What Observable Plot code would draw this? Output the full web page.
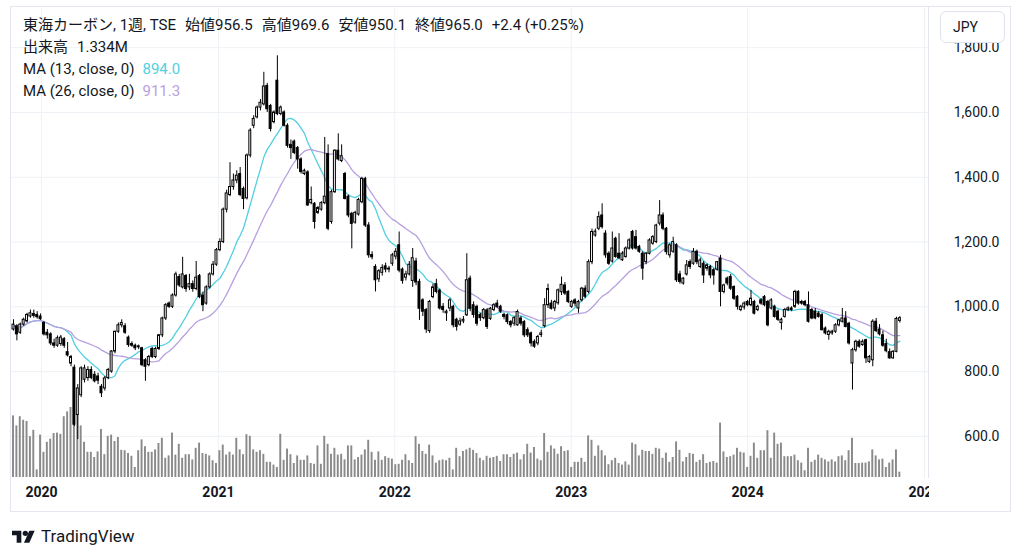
<!DOCTYPE html>
<html><head><meta charset="utf-8">
<script src="https://cdn.jsdelivr.net/npm/d3@7"></script>
<script src="https://cdn.jsdelivr.net/npm/@observablehq/plot@0.6"></script>
<style>
body{margin:0;background:#fff;}
#root{position:relative;width:1024px;height:557px;overflow:hidden;font-family:Roboto,"Noto Sans CJK JP",sans-serif;color:#131722;}
.layer{position:absolute;left:11px;top:8px;}
#frame{position:absolute;left:10px;top:6px;width:1001px;height:506px;border:1px solid #e3e6ee;box-sizing:border-box;pointer-events:none;}
#sep{position:absolute;left:928px;top:7px;width:1px;height:471px;background:#e3e6ee;}
#clipx{position:absolute;left:929px;top:479px;width:81px;height:32px;background:#fff;}
#jpy{position:absolute;left:940px;top:11px;width:65px;height:32px;box-sizing:border-box;border:1px solid #e0e3eb;border-radius:6px;background:#fff;font-size:14px;line-height:30px;padding-left:12px;}
#hdr{position:absolute;left:23px;top:14px;font-size:15px;line-height:22px;white-space:nowrap;}
#hdr .ln{height:22px;}
#hdr .g{margin-left:9px;}
#hdr .g8{margin-left:8px;}
#logo{position:absolute;left:12px;top:526px;display:flex;align-items:center;gap:5px;font-size:17px;}
</style></head><body><div id="root"></div>
<script>
// ---- data (weekly, first week 2019-11-04) ----
const firstWeek = "2019-11-04";
const opens = [
930,940,920,945,955,970,978,975,970,950,
920,915,887,880,885,900,860,825,812,666,
727,775,780,805,790,785,753,748,780,800,
862,923,943,940,905,885,880,875,872,835,
820,870,845,870,912,964,1010,1000,1035,1092,
1060,1095,1060,1070,1055,1095,1035,1010,1060,1100,
1130,1175,1200,1300,1345,1370,1390,1410,1364,1335,
1467,1559,1585,1615,1625,1682,1620,1570,1698,1595,
1600,1559,1500,1510,1490,1455,1410,1415,1320,1318,
1290,1300,1320,1472,1262,1354,1482,1450,1410,1340,
1287,1260,1285,1323,1395,1251,1160,1123,1085,1105,
1125,1115,1133,1155,1190,1115,1090,1100,1080,1140,
1077,1020,990,925,1030,1070,1050,1000,980,995,
1000,960,945,955,974,1087,1005,1000,975,965,
989,963,990,1010,1000,975,974,953,948,943,
964,953,928,918,892,887,913,940,1005,1010,
995,1011,1045,1066,1046,1000,1020,995,1020,1056,
1046,1138,1220,1241,1282,1226,1164,1140,1210,1164,
1144,1154,1180,1231,1215,1185,1164,1138,1164,1195,
1200,1257,1282,1241,1159,1170,1190,1100,1072,1100,
1138,1133,1170,1123,1133,1118,1123,1113,1115,1149,
1046,1087,1092,1061,1031,990,998,1015,1005,1015,
990,1020,1030,1015,995,1000,985,950,969,990,
995,1000,1046,1015,1015,1005,990,985,979,974,
933,913,918,923,943,954,964,948,825,866,
892,882,897,830,835,954,930,912,885,860,
841,861,956.5];
const highs = [
960,945,950,965,980,990,990,985,978,955,
930,920,900,910,912,905,890,850,820,760,
815,820,815,815,800,795,760,785,810,865,
925,950,960,948,910,892,885,882,875,840,
850,875,875,915,968,1010,1015,1040,1107,1100,
1153,1100,1100,1080,1140,1100,1045,1065,1105,1140,
1180,1210,1305,1360,1445,1410,1420,1430,1370,1472,
1550,1590,1620,1640,1724,1690,1625,1605,1775,1620,
1605,1565,1515,1515,1495,1460,1425,1420,1370,1322,
1310,1325,1523,1500,1360,1485,1534,1500,1415,1345,
1292,1295,1335,1400,1400,1260,1170,1130,1115,1130,
1135,1125,1165,1180,1231,1120,1110,1140,1180,1150,
1085,1025,995,1020,1070,1085,1055,1010,990,1025,
1005,965,965,970,1164,1095,1015,1005,980,995,
995,998,1010,1020,1005,980,978,958,970,990,
970,958,935,922,898,912,928,1025,1070,1020,
1020,1055,1092,1075,1050,1020,1025,1020,1060,1065,
1145,1240,1240,1293,1318,1235,1170,1231,1215,1226,
1170,1185,1210,1236,1236,1190,1170,1168,1210,1220,
1255,1328,1290,1245,1195,1215,1195,1110,1090,1143,
1145,1180,1175,1150,1140,1132,1128,1118,1140,1159,
1070,1092,1100,1065,1035,1005,1015,1020,1051,1020,
1005,1025,1035,1020,1025,1005,990,965,995,1000,
1000,1051,1050,1020,1020,1046,995,995,985,980,
938,928,928,948,962,995,985,952,872,897,
898,898,900,850,960,964,945,925,900,870,
865,968,969.6];
const lows = [
925,895,915,940,950,965,965,962,958,910,
900,880,872,875,878,872,845,815,630,590,
720,765,770,775,765,760,720,740,775,795,
855,918,935,915,875,875,865,868,815,770,
815,840,840,865,905,958,995,995,1030,1060,
1055,1045,1050,1045,1050,1025,985,1005,1055,1095,
1125,1170,1195,1290,1340,1360,1380,1340,1300,1330,
1460,1550,1580,1605,1620,1600,1540,1565,1590,1590,
1555,1490,1455,1470,1425,1410,1405,1310,1315,1240,
1285,1295,1315,1235,1255,1350,1450,1445,1330,1275,
1179,1255,1280,1318,1245,1150,1145,1046,1075,1095,
1105,1105,1125,1145,1105,1070,1080,1095,1060,1065,
958,970,918,918,1025,1040,990,980,955,985,
935,925,940,948,970,985,965,940,955,960,
930,958,985,995,980,960,945,935,940,940,
940,905,905,876,872,880,905,935,995,990,
985,1005,1035,1035,1010,995,1000,980,1015,1025,
1040,1130,1215,1235,1240,1150,1128,1135,1150,1145,
1140,1150,1175,1175,1175,1165,1082,1130,1160,1190,
1195,1250,1235,1160,1150,1165,1075,1070,1067,1095,
1115,1128,1130,1118,1072,1110,1087,1067,1110,1000,
1040,1065,1050,1020,990,985,990,1000,1000,975,
985,1005,1000,938,990,965,955,928,965,985,
985,995,1005,1005,1000,950,960,960,965,925,
913,897,912,918,938,950,935,882,743,860,
872,878,825,825,815,920,910,875,858,838,
838,858,950.1];
const closes = [
945,915,945,960,975,980,972,968,962,915,
912,887,880,903,905,880,850,845,636,748,
810,810,805,780,770,772,733,779,805,862,
923,943,950,920,882,880,872,878,820,815,
845,845,870,912,964,1005,1000,1035,1100,1066,
1100,1055,1070,1055,1090,1030,1005,1060,1100,1130,
1175,1200,1300,1350,1370,1390,1405,1345,1333,1467,
1544,1580,1615,1630,1680,1610,1549,1600,1595,1615,
1559,1497,1490,1475,1455,1416,1420,1313,1330,1262,
1305,1320,1340,1241,1354,1482,1455,1465,1333,1282,
1256,1290,1330,1395,1251,1159,1153,1082,1110,1120,
1115,1118,1159,1170,1112,1080,1100,1130,1150,1075,
994,985,930,1015,1060,1046,995,990,985,1020,
943,938,955,960,1082,994,975,948,965,990,
938,994,1005,1000,985,969,953,943,965,984,
948,912,912,887,877,907,918,1005,1055,994,
1015,1051,1068,1041,1015,1015,1010,1015,1056,1031,
1138,1231,1232,1277,1246,1159,1133,1180,1154,1150,
1164,1180,1205,1180,1180,1170,1118,1164,1205,1215,
1251,1282,1241,1169,1190,1200,1082,1077,1087,1128,
1123,1170,1138,1143,1097,1128,1097,1097,1138,1046,
1066,1072,1056,1025,1000,1000,1010,1005,1025,979,
1000,1010,1005,943,1020,969,960,960,990,995,
990,1046,1010,1010,1005,954,964,964,969,928,
918,923,923,943,958,964,938,887,866,892,
877,892,841,845,954,925,915,880,863,841,
861,962.6,965.0];
// volume in millions of shares
const volumes = [
15.4,12.9,15.2,14.3,14.0,10.2,11.8,1.9,10.6,6.3,
8.8,9.6,11.0,11.1,10.8,15.2,16.4,17.5,14.2,15.7,
12.9,8.8,6.3,6.3,5.0,6.4,12.0,5.7,10.3,10.6,
9.0,10.0,6.8,6.7,6.0,5.3,2.5,6.7,9.4,7.7,
6.3,6.3,6.9,8.5,9.8,4.8,5.4,11.1,5.6,8.3,
4.8,5.7,5.7,4.4,7.3,8.6,6.0,5.8,5.4,4.2,
3.5,6.7,8.1,5.6,6.3,5.6,9.8,6.9,5.7,10.7,
10.3,6.9,6.3,6.7,5.8,3.8,3.8,3.1,2.5,10.8,
4.3,7.1,5.7,3.5,5.4,4.3,4.3,5.4,3.5,3.3,
7.9,3.3,10.3,8.3,5.8,7.3,5.6,5.8,4.4,7.9,
7.9,4.4,5.0,5.6,6.9,9.3,6.3,4.3,6.4,4.3,
5.2,4.8,4.6,3.2,3.3,4.3,5.7,4.2,3.5,
10.2,8.3,6.5,5.8,8.1,5.4,3.6,4.2,4.4,4.2,
4.8,1.9,7.3,5.2,6.5,6.9,7.3,6.8,6.0,4.8,
4.2,5.3,4.8,5.0,5.3,4.0,5.7,5.7,5.0,5.8,
6.1,4.4,5.7,8.3,6.1,7.5,4.6,4.2,11.0,6.3,
7.9,7.1,5.8,7.7,6.5,6.7,2.5,3.8,3.8,4.8,
3.8,10.4,9.3,5.3,7.9,6.7,5.4,3.2,4.2,4.8,
3.5,3.1,3.9,3.1,8.6,8.2,5.4,6.8,6.5,6.5,
5.8,7.3,7.1,4.8,6.1,3.8,5.0,8.9,6.8,3.9,
5.0,6.0,5.8,3.8,4.3,5.7,3.5,3.8,4.0,3.6,
13.6,6.4,5.0,5.2,5.6,7.3,6.3,6.1,2.5,5.3,
8.6,4.8,6.7,6.7,11.7,4.8,11.1,8.3,8.6,5.2,
5.2,5.2,5.6,4.2,3.6,1.7,7.3,3.8,4.3,5.6,
4.8,4.4,3.9,4.4,3.9,5.2,5.4,4.2,6.7,9.8,
3.5,3.5,3.6,3.6,3.9,6.9,5.4,4.4,4.6,2.5,
3.6,4.4,6.9,1.334];
const priceTicks = [600, 800, 1000, 1200, 1400, 1600, 1800];
const yearTicks = [2020, 2021, 2022, 2023, 2024, 2025];
const maPeriods = [13, 26];
const maColors = ["#52cfe0", "#b7a0e0"];
const titleText = "東海カーボン, 1週, TSE";

// ---- build ----
const DAY = 864e5;
const t0 = Date.parse(firstWeek + "T00:00:00Z");
const data = closes.map((c, i) => ({
  date: new Date(t0 + i * 7 * DAY), open: opens[i], high: highs[i], low: lows[i], close: c, volume: volumes[i]
}));
const up = data.filter(d => d.close >= d.open);
const down = data.filter(d => d.close < d.open);
const xDomain = [new Date(t0 - 4.14 * DAY), new Date(t0 + 1893.3 * DAY)];
const yearDates = yearTicks.map(y => new Date(Date.UTC(y, 0, 1)));
const W = 1000, H = 505, MR = 83;
const base = {width: W, height: H, marginLeft: 0, marginRight: MR, marginTop: 0};
const font = "Roboto, 'Noto Sans CJK JP', sans-serif";
const bx1 = d => new Date(+d.date - 2 * DAY), bx2 = d => new Date(+d.date + 2 * DAY);

const root = document.getElementById("root");
function addLayer(svg) { svg.classList.add("layer"); root.appendChild(svg); }

// grid + axes
addLayer(Plot.plot({
  ...base, marginBottom: 35,
  style: {fontFamily: font, background: "white", color: "#131722"},
  x: {type: "utc", domain: xDomain},
  y: {domain: [470, 1921]},
  marks: [
    Plot.gridY(priceTicks, {stroke: "#eef1f6", strokeOpacity: 1}),
    Plot.gridX(yearDates, {stroke: "#eef1f6", strokeOpacity: 1}),
    Plot.axisY(priceTicks, {anchor: "right", tickSize: 0, tickPadding: 0, textAnchor: "end", dx: 71,
      tickFormat: d3.format(",.1f"), fontSize: 14, label: null}),
    Plot.axisX(yearDates, {anchor: "bottom", tickSize: 0, tickPadding: 9, tickFormat: d3.utcFormat("%Y"),
      fontSize: 14, fontWeight: "bold", label: null})
  ]
}));

// volume
addLayer(Plot.plot({
  ...base, marginBottom: 36,
  style: {background: "transparent"},
  x: {type: "utc", domain: xDomain, axis: null},
  y: {domain: [0, 117.25], axis: null},
  marks: [Plot.rectY(data, {x1: bx1, x2: bx2, y: "volume", fill: "#8a8a8a"})]
}));

// candles + moving averages
addLayer(Plot.plot({
  ...base, marginBottom: 35,
  style: {background: "transparent"},
  x: {type: "utc", domain: xDomain, axis: null},
  y: {domain: [470, 1921], axis: null},
  marks: [
    ...maPeriods.map((k, j) => Plot.lineY(data, Plot.windowY({k, anchor: "end"},
      {x: "date", y: "close", stroke: maColors[j], strokeWidth: 1.3}))),
    Plot.ruleX(data, {x: "date", y1: "low", y2: "high", stroke: "#000", strokeWidth: 1}),
    Plot.rect(down, {x1: bx1, x2: bx2, y1: "open", y2: "close", fill: "#000", stroke: "#000", strokeWidth: 1}),
    Plot.rect(up, {x1: bx1, x2: bx2, y1: "open", y2: "close", fill: "#fff", stroke: "#000", strokeWidth: 1})
  ]
}));

// chrome
const last = data[data.length - 1], prev = data[data.length - 2];
const chg = last.close - prev.close;
const sign = chg >= 0 ? "+" : "";
const ma = maPeriods.map(k => d3.mean(closes.slice(-k)));
const f1 = d3.format(".1f");
const extra = document.createElement("div");
extra.innerHTML = `
<div id="frame"></div><div id="sep"></div><div id="clipx"></div>
<div id="jpy">JPY</div>
<div id="hdr">
<div class="ln"><span>${titleText}</span><span class="g">始値${f1(last.open)}</span><span class="g">高値${f1(last.high)}</span><span class="g">安値${f1(last.low)}</span><span class="g">終値${f1(last.close)}</span><span class="g">${sign}${f1(chg)} (${sign}${(chg / prev.close * 100).toFixed(2)}%)</span></div>
<div class="ln"><span>出来高</span><span class="g">${last.volume.toFixed(3)}M</span></div>
${maPeriods.map((k, j) => `<div class="ln"><span>MA (${k}, close, 0)</span><span class="g8" style="color:${maColors[j]}">${f1(ma[j])}</span></div>`).join("")}
</div>
<div id="logo"><svg width="24" height="16" viewBox="0 0 36 24"><path d="M14 22H7V11H0V4h14z" fill="#131722"/><circle cx="20" cy="8" r="4" fill="#131722"/><path d="M18 22h8L34 4h-8z" fill="#131722"/></svg><span>TradingView</span></div>`;
while (extra.firstElementChild) root.appendChild(extra.firstElementChild);
</script></body></html>
